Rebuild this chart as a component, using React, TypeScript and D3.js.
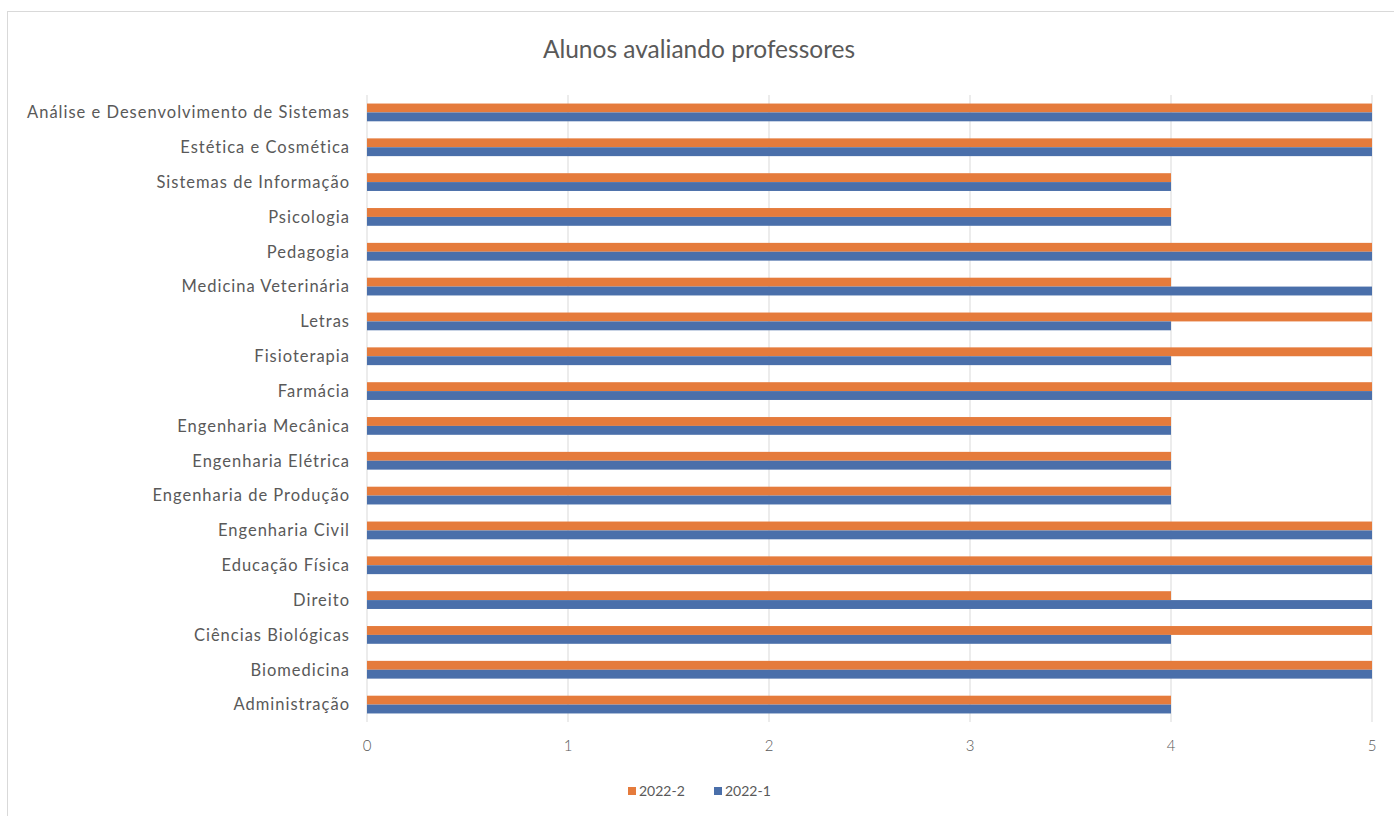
import React from "react";
import * as d3 from "d3";

const categories = [
  "Análise e Desenvolvimento de Sistemas",
  "Estética e Cosmética",
  "Sistemas de Informação",
  "Psicologia",
  "Pedagogia",
  "Medicina Veterinária",
  "Letras",
  "Fisioterapia",
  "Farmácia",
  "Engenharia Mecânica",
  "Engenharia Elétrica",
  "Engenharia de Produção",
  "Engenharia Civil",
  "Educação Física",
  "Direito",
  "Ciências Biológicas",
  "Biomedicina",
  "Administração",
];

const series2022_2 = [5, 5, 4, 4, 5, 4, 5, 5, 5, 4, 4, 4, 5, 5, 4, 5, 5, 4];
const series2022_1 = [5, 5, 4, 4, 5, 5, 4, 4, 5, 4, 4, 4, 5, 5, 5, 4, 5, 4];

const seriesNames = ["2022-2", "2022-1"];
const seriesColors = ["#E57B3C", "#4A6FAA"];
const xTicks = [0, 1, 2, 3, 4, 5];
const title = "Alunos avaliando professores";

const W = 1394;
const H = 816;
const FONT = "Lato, 'Open Sans', sans-serif";

export default function App() {
  const x = d3.scaleLinear().domain([0, 5]).range([367, 1372]);
  const y = d3
    .scaleBand<string>()
    .domain(categories)
    .range([95, 722])
    .paddingInner(0.49)
    .paddingOuter(0.245);
  const sub = d3
    .scaleBand<string>()
    .domain(seriesNames)
    .range([0, y.bandwidth()]);
  const data = [series2022_2, series2022_1];

  return (
    <svg
      width={W}
      height={H}
      style={{ position: "absolute", left: 0, top: 0, background: "#fff" }}
    >
      <rect x={7.5} y={11.5} width={W} height={H} fill="#fff" stroke="#d9d9d9" />
      <text
        x={699}
        y={58}
        textAnchor="middle"
        fontFamily={FONT}
        fontSize={24.5}
        fill="#595959"
      >
        {title}
      </text>
      {xTicks.map((t) => (
        <g key={t}>
          <line x1={x(t)} x2={x(t)} y1={95} y2={722} stroke="#d9d9d9" strokeWidth={1} />
          <text
            x={x(t)}
            y={751}
            textAnchor="middle"
            fontFamily={FONT}
            fontSize={15}
            fontWeight={300}
            fill="#595959"
          >
            {t}
          </text>
        </g>
      ))}
      {categories.map((c, i) => (
        <g key={c}>
          {data.map((s, k) => (
            <rect
              key={k}
              x={x(0)}
              y={(y(c) as number) + (sub(seriesNames[k]) as number)}
              width={x(s[i]) - x(0)}
              height={sub.bandwidth()}
              fill={seriesColors[k]}
            />
          ))}
          <text
            x={350}
            y={(y(c) as number) + y.bandwidth() / 2}
            dy="0.35em"
            textAnchor="end"
            fontFamily={FONT}
            fontSize={16.5}
            letterSpacing={1.0}
            fill="#595959"
          >
            {c}
          </text>
        </g>
      ))}
      {seriesNames.map((n, k) => {
        const lx = [628, 714][k];
        return (
          <g key={n}>
            <rect x={lx} y={787} width={8} height={8} fill={seriesColors[k]} />
            <text x={lx + 11} y={796} fontFamily={FONT} fontSize={14} fill="#595959">
              {n}
            </text>
          </g>
        );
      })}
    </svg>
  );
}
